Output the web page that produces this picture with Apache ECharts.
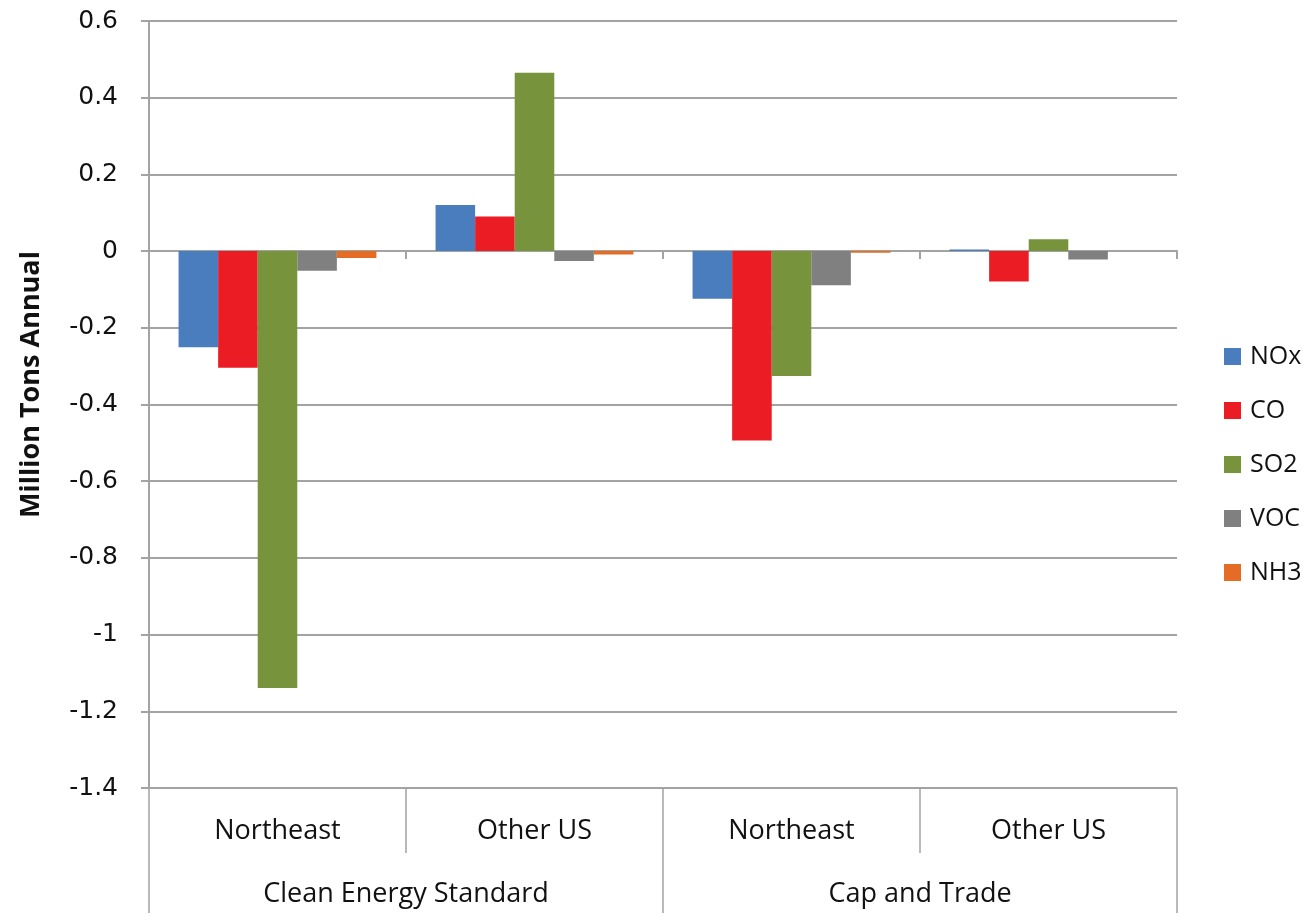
<!DOCTYPE html>
<html>
<head>
<meta charset="utf-8">
<script src="https://cdn.jsdelivr.net/npm/echarts@6/dist/echarts.min.js"></script>
<style>html,body{margin:0;padding:0;background:#fff}#c{width:1309px;height:913px}</style>
</head>
<body>
<div id="c"></div>
<script>
const regions = ["Northeast", "Other US", "Northeast", "Other US"];
const policies = ["Clean Energy Standard", "Cap and Trade"];
const seriesNames = ["NOx", "CO", "SO2", "VOC", "NH3"];
const NOx = [-0.251, 0.12, -0.124, 0.004];
const CO = [-0.304, 0.09, -0.494, -0.079];
const SO2 = [-1.139, 0.465, -0.326, 0.031];
const VOC = [-0.051, -0.026, -0.089, -0.022];
const NH3 = [-0.018, -0.009, -0.004, 0];
const colors = ["#4a7dbe", "#ec1c24", "#77933c", "#808080", "#e46c24"];
const yTicks = { min: -1.4, max: 0.6, step: 0.2 };

const values = [NOx, CO, SO2, VOC, NH3];
const gridColor = "#a3a3a3";
const catFont = "'Open Sans', 'Lato', sans-serif";

const chart = echarts.init(document.getElementById('c'), null, { renderer: 'canvas' });
chart.setOption({
  animation: false,
  backgroundColor: '#fff',
  grid: { left: 149, right: 132, top: 21, bottom: 125, containLabel: false },
  legend: {
    orient: 'vertical',
    left: 1219,
    top: 339,
    itemWidth: 17,
    itemHeight: 17,
    itemGap: 29,
    icon: 'rect',
    data: seriesNames,
    textStyle: { fontFamily: catFont, fontSize: 25, color: '#111', lineHeight: 25, padding: [0, 0, 0, 4] }
  },
  xAxis: [
    {
      type: 'category', data: regions, position: 'bottom',
      axisLine: { onZero: true, lineStyle: { color: gridColor, width: 2 } },
      axisTick: { show: true, length: 8, lineStyle: { color: gridColor, width: 2 } },
      axisLabel: { show: false }
    },
    {
      type: 'category', data: regions, position: 'bottom',
      axisLine: { show: false, onZero: false },
      axisTick: { show: true, length: 65, interval: 0, lineStyle: { color: gridColor, width: 1.5 } },
      axisLabel: { show: true, interval: 0, margin: 30, fontFamily: catFont, fontSize: 27, color: '#111' }
    },
    {
      type: 'category', data: policies, position: 'bottom',
      axisLine: { show: false, onZero: false },
      axisTick: { show: true, length: 125, interval: 0, lineStyle: { color: gridColor, width: 1.5 } },
      axisLabel: { show: true, interval: 0, margin: 93, fontFamily: catFont, fontSize: 27, color: '#111' }
    }
  ],
  yAxis: {
    type: 'value', min: yTicks.min, max: yTicks.max, interval: yTicks.step,
    name: 'Million Tons Annual', nameLocation: 'middle', nameGap: 104, nameRotate: 90,
    nameTextStyle: { fontFamily: catFont, fontSize: 27, fontWeight: 'bold', color: '#111', padding: [0, 0, 0, 40] },
    axisLine: { show: true, lineStyle: { color: gridColor, width: 2 } },
    axisTick: { show: true, length: 8, lineStyle: { color: gridColor, width: 2 } },
    axisLabel: {
      margin: 31, fontFamily: "'DejaVu Sans', Verdana, sans-serif", fontSize: 25, color: '#111',
      formatter: v => String(parseFloat(v.toFixed(1)))
    },
    splitLine: { show: true, lineStyle: { color: gridColor, width: 2 } }
  },
  series: seriesNames.map((n, i) => ({
    name: n, type: 'bar', xAxisIndex: 0, data: values[i],
    barGap: '0%', barCategoryGap: '23%',
    itemStyle: { color: colors[i] }
  }))
});
</script>
</body>
</html>
